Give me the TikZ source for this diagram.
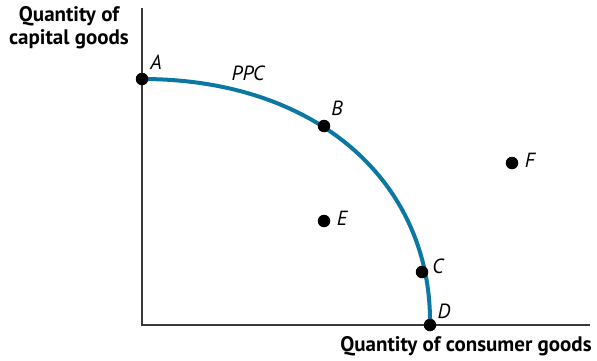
\documentclass[tikz,border=0pt]{standalone}
\usepackage{fontspec}
\setmainfont{PT Sans}
\usepackage{tikz}
\usetikzlibrary{positioning}
\definecolor{ppcblue}{HTML}{0A78A3}
\definecolor{axisgray}{HTML}{3A3A3A}

\begin{document}
\begin{tikzpicture}[
      x=1pt, y=-1pt,
      font=\fontsize{20.5}{22}\selectfont,
      axis/.style={draw=axisgray, line width=1.1pt},
      curve/.style={draw=ppcblue, line width=4pt},
      dot/.style={circle, fill=black, inner sep=0pt, minimum size=12.5pt},
      lbl/.style={font=\fontsize{20.5}{22}\selectfont\itshape, inner sep=1pt},
      title/.style={font=\fontsize{21}{23}\selectfont\bfseries, align=center, inner sep=0pt},
    ]
    \useasboundingbox (0,0) rectangle (597,360);
    % axes
    \coordinate (o) at (142,325);
    \coordinate (ytop) at (142,8);
    \coordinate (xend) at (590,325);
    \draw[axis] (ytop) -- (o) -- (xend);
    \node[title] (ytitle) at (69,28) {Quantity of\\capital goods};
    \node[title] (xtitle) at (466,346) {Quantity of consumer goods};
    % frontier
    \coordinate (a) at (142,79);
    \coordinate (d) at (430,325);
    \draw[curve] (a) .. controls (320,79) and (432,185) .. (d);
    \node[lbl] (ppc) at (248,73) {PPC};
    % points
    \node[dot] (pa) at (a) {};
    \node[dot] (pb) at (324,126) {};
    \node[dot] (pc) at (422,272) {};
    \node[dot] (pd) at (d) {};
    \node[dot] (pe) at (324,221) {};
    \node[dot] (pf) at (512,163) {};
    \node[lbl] (la) at (156,62) {A};
    \node[lbl] (lb) at (337,108) {B};
    \node[lbl] (lc) at (438,266) {C};
    \node[lbl] (ld) at (444,311) {D};
    \node[lbl] (le) at (342,218) {E};
    \node[lbl] (lf) at (530,160) {F};
  \end{tikzpicture}
\end{document}
